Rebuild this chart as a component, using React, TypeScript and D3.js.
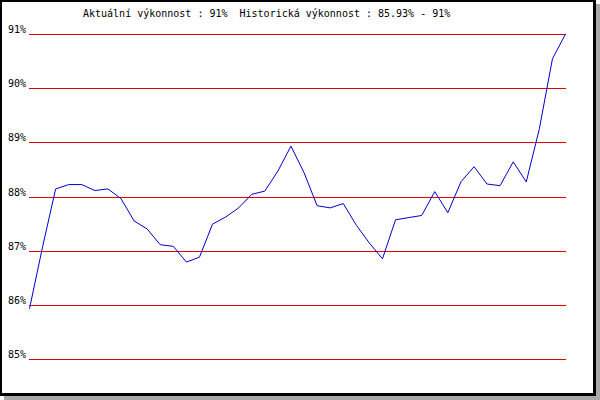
import { useRef, useEffect } from "react";
import * as d3 from "d3";

const TITLE = "Aktuální výkonnost : 91%  Historická výkonnost : 85.93% - 91%";

const performance = [
  85.93, 87.07, 88.14, 88.22, 88.22, 88.11, 88.14, 87.96, 87.55, 87.4,
  87.11, 87.08, 86.79, 86.88, 87.49, 87.62, 87.79, 88.04, 88.1, 88.47,
  88.93, 88.44, 87.83, 87.79, 87.87, 87.47, 87.14, 86.85, 87.57, 87.61,
  87.65, 88.09, 87.7, 88.27, 88.55, 88.23, 88.2, 88.64, 88.27, 89.25,
  90.54, 91.0,
];

const tickValues = [85, 86, 87, 88, 89, 90, 91];
const tickLabels = ["85%", "86%", "87%", "88%", "89%", "90%", "91%"];

const WIDTH = 600;
const HEIGHT = 400;
const PLOT = { left: 29, right: 565, top: 34, bottom: 359 };
const FONT = "'DejaVu Sans Mono', 'Liberation Mono', monospace";

export default function App() {
  const svgRef = useRef<SVGSVGElement>(null);

  useEffect(() => {
    const svg = d3.select(svgRef.current);
    svg.selectAll("*").remove();

    // Frame with drop shadow
    svg.append("rect").attr("x", 4).attr("y", 4).attr("width", 596).attr("height", 396).attr("fill", "#a9a9a9");
    svg.append("rect").attr("x", 0).attr("y", 0).attr("width", 596).attr("height", 396).attr("fill", "#000");
    svg.append("rect").attr("x", 2).attr("y", 2).attr("width", 591).attr("height", 391).attr("fill", "#fff");

    const x = d3
      .scaleLinear()
      .domain([0, performance.length - 1])
      .range([PLOT.left + 0.5, PLOT.right + 0.5]);
    const y = d3.scaleLinear().domain([85, 91]).range([PLOT.bottom, PLOT.top]);

    // Title
    svg
      .append("text")
      .attr("x", 83)
      .attr("y", 17)
      .attr("font-family", FONT)
      .attr("font-size", "10px")
      .attr("fill", "#000")
      .attr("xml:space", "preserve")
      .style("white-space", "pre")
      .text(TITLE);

    // Grid lines + labels
    const grid = svg.append("g");
    tickValues.forEach((v, i) => {
      const gy = Math.round(y(v));
      grid
        .append("line")
        .attr("x1", PLOT.left)
        .attr("x2", PLOT.right + 1)
        .attr("y1", gy + 0.5)
        .attr("y2", gy + 0.5)
        .attr("stroke", "#dd0000")
        .attr("stroke-width", 1)
        .attr("shape-rendering", "crispEdges");
      grid
        .append("text")
        .attr("x", 26)
        .attr("y", gy - 1)
        .attr("text-anchor", "end")
        .attr("font-family", FONT)
        .attr("font-size", "10px")
        .attr("fill", "#000")
        .text(tickLabels[i]);
    });

    // Performance line
    const line = d3
      .line<number>()
      .x((_, i) => x(i))
      .y((d) => y(d));

    svg
      .append("path")
      .datum(performance)
      .attr("fill", "none")
      .attr("stroke", "#0000cc")
      .attr("stroke-width", 1)
      .attr("d", line);
  }, []);

  return (
    <svg
      ref={svgRef}
      width={WIDTH}
      height={HEIGHT}
      viewBox={`0 0 ${WIDTH} ${HEIGHT}`}
      style={{ position: "absolute", left: 0, top: 0 }}
    />
  );
}
